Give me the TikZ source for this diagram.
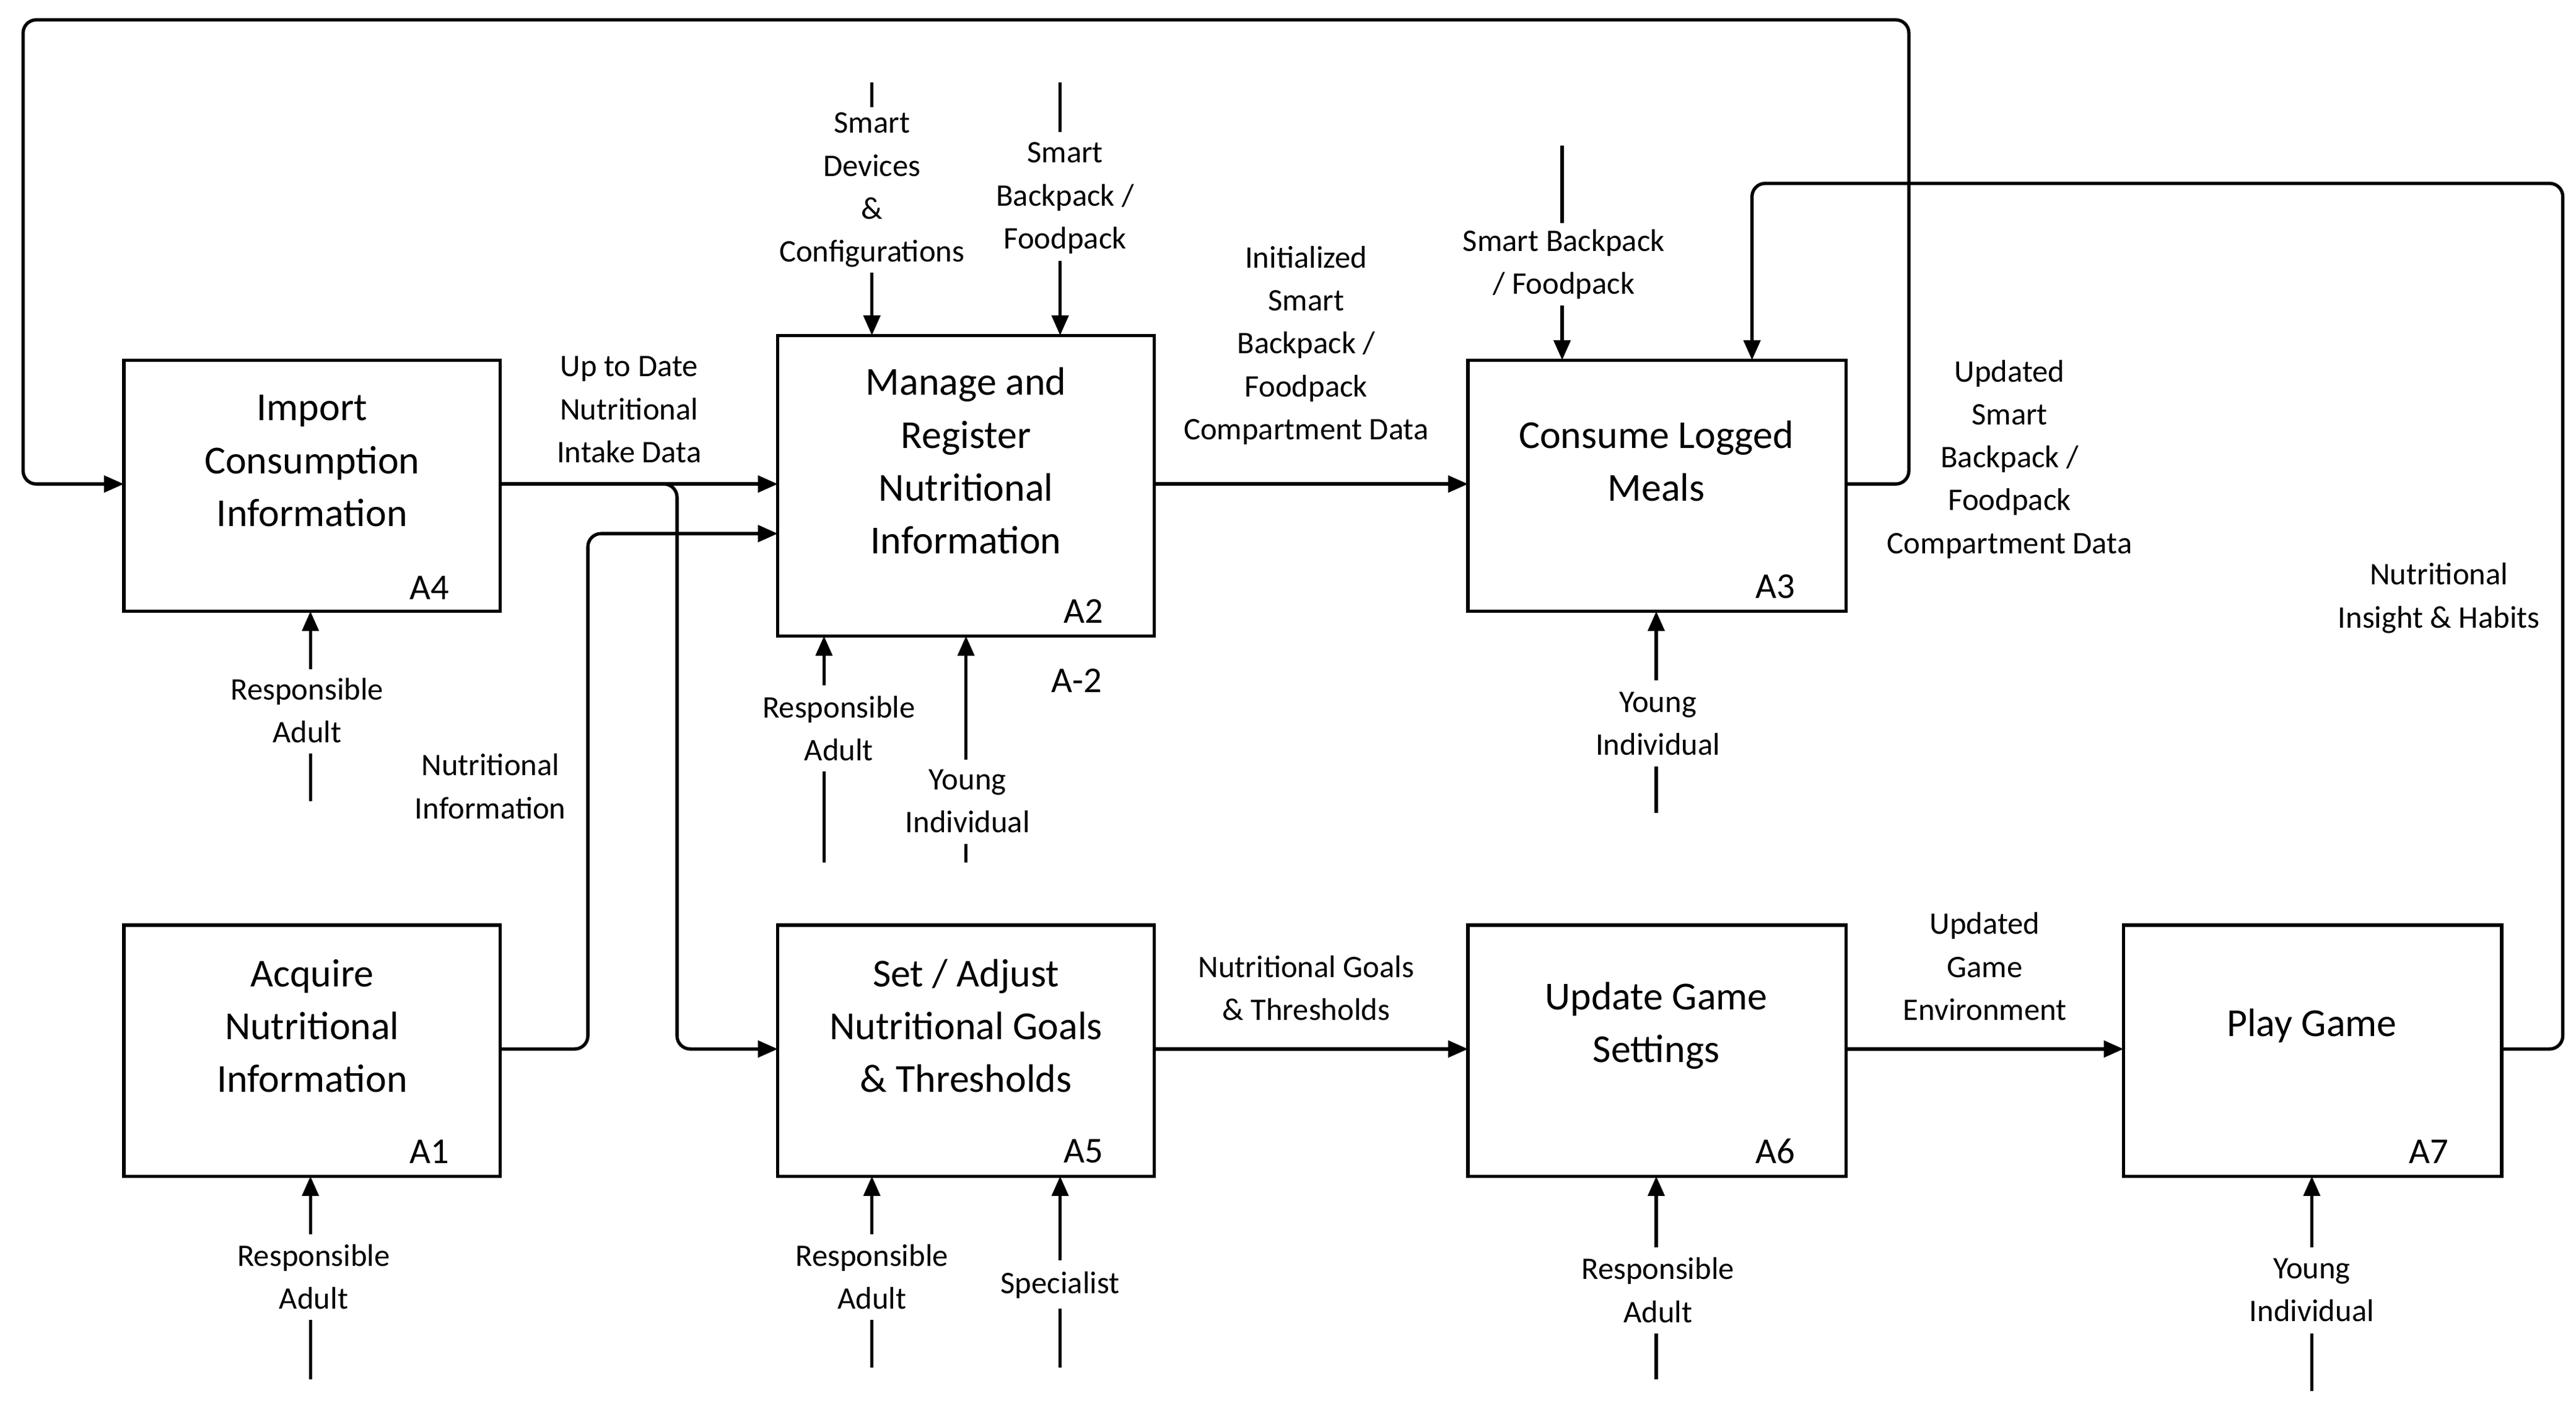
\documentclass[tikz,border=0pt]{standalone}
\usepackage{fontspec}
\setmainfont{Carlito}
\usetikzlibrary{arrows.meta}
\begin{document}
\begin{tikzpicture}[x=1pt,y=-1pt,
  box/.style={draw,line width=2pt,inner sep=0pt},
  ttl/.style={align=center,font=\fontsize{24}{32}\selectfont},
  lbl/.style={align=center,font=\fontsize{19}{26}\selectfont,inner sep=3pt},
  idl/.style={font=\fontsize{22}{26}\selectfont,inner sep=0pt},
  ln/.style={line width=2pt},
  arr/.style={line width=2pt,-{Triangle[length=12pt,width=10pt]}},
  rc/.style={rounded corners=8pt}]
\useasboundingbox (0,0) rectangle (1560,848);
% boxes
\draw[box] (75,218) rectangle (303,370); \node[ttl] (t4) at (189,279) {Import\\Consumption\\Information}; \node[idl] (a4) at (260,356) {A4};
\draw[box] (471,203) rectangle (699,385); \node[ttl] (t2) at (585,279) {Manage and\\Register\\Nutritional\\Information}; \node[idl] (a2) at (656,370) {A2};
\draw[box] (889,218) rectangle (1118,370); \node[ttl] (t3) at (1003,279) {Consume Logged\\Meals}; \node[idl] (a3) at (1075,355) {A3};
\draw[box] (75,560) rectangle (303,712); \node[ttl] (t1) at (189,621) {Acquire\\Nutritional\\Information}; \node[idl] (a1) at (260,697) {A1};
\draw[box] (471,560) rectangle (699,712); \node[ttl] (t5) at (585,621) {Set / Adjust\\Nutritional Goals\\\& Thresholds}; \node[idl] (a5) at (656,697) {A5};
\draw[box] (889,560) rectangle (1118,712); \node[ttl] (t6) at (1003,621) {Update Game\\Settings}; \node[idl] (a6) at (1075,697) {A6};
\draw[box] (1286,560) rectangle (1515,712); \node[ttl] (t7) at (1400,621) {Play Game}; \node[idl] (a7) at (1471,697) {A7};
\node[idl] (am2) at (652,412) {A-2};
% coordinates
\coordinate (b4r) at (303,293); \coordinate (b2l) at (471,293); \coordinate (b2l2) at (471,323);
\coordinate (b2r) at (699,293); \coordinate (b3l) at (889,293); \coordinate (b3r) at (1118,293);
\coordinate (b4l) at (75,293); \coordinate (b1r) at (303,635); \coordinate (b5l) at (471,635);
\coordinate (b5r) at (699,635); \coordinate (b6l) at (889,635); \coordinate (b6r) at (1118,635);
\coordinate (b7l) at (1286,635); \coordinate (b7r) at (1515,635); \coordinate (b3t) at (1061,218);
% flows
\draw[arr] (b4r) -- (b2l);
\draw[arr,rc] (b4r) -- (410,293) -- (410,635) -- (b5l);
\draw[arr,rc] (b1r) -- (356,635) -- (356,323) -- (b2l2);
\draw[arr] (b2r) -- (b3l);
\draw[arr,rc] (b3r) -- (1156,293) -- (1156,12) -- (14,12) -- (14,293) -- (b4l);
\draw[arr,rc] (b7r) -- (1552,635) -- (1552,111) -- (1061,111) -- (b3t);
\draw[arr] (b5r) -- (b6l);
\draw[arr] (b6r) -- (b7l);
\node[lbl] (l1) at (381,248) {Up to Date\\Nutritional\\Intake Data};
\node[lbl] (l2) at (297,476) {Nutritional\\Information};
\node[lbl] (l3) at (791,209) {Initialized\\Smart\\Backpack /\\Foodpack\\Compartment Data};
\node[lbl] (l4) at (1217,278) {Updated\\Smart\\Backpack /\\Foodpack\\Compartment Data};
\node[lbl] (l5) at (1477,362) {Nutritional\\Insight \& Habits};
\node[lbl] (l6) at (791,598) {Nutritional Goals\\\& Thresholds};
\node[lbl] (l7) at (1202,585) {Updated\\Game\\Environment};
% controls
\node[lbl] (c1) at (528,115) {Smart\\Devices\\\&\\Configurations};
\coordinate (c1t) at (528,50); \draw[ln] (c1t) -- (c1.north); \draw[arr] (c1.south) -- (528,203);
\node[lbl] (c2) at (645,120) {Smart\\Backpack /\\Foodpack};
\coordinate (c2t) at (642,50); \draw[ln] (c2t) -- (642,80); \draw[arr] (642,158) -- (642,203);
\node[lbl] (c3) at (947,160) {Smart Backpack\\/ Foodpack};
\coordinate (c3t) at (946,88); \draw[ln] (c3t) -- (946,135); \draw[arr] (946,185) -- (946,218);
% mechanisms
\node[lbl] (m4) at (186,430) {Responsible\\Adult};
\draw[ln] (188,485) -- (188,456); \draw[arr] (188,405) -- (188,370);
\node[lbl] (m2a) at (508,441) {Responsible\\Adult};
\draw[ln] (499,522) -- (499,467); \draw[arr] (499,415) -- (499,385);
\node[lbl] (m2b) at (586,485) {Young\\Individual};
\draw[ln] (585,522) -- (585,511); \draw[arr] (585,460) -- (585,385);
\node[lbl] (m3) at (1004,438) {Young\\Individual};
\draw[ln] (1003,492) -- (1003,464); \draw[arr] (1003,412) -- (1003,370);
\node[lbl] (m1) at (190,773) {Responsible\\Adult};
\draw[ln] (188,835) -- (188,799); \draw[arr] (188,747) -- (188,712);
\node[lbl] (m5a) at (528,773) {Responsible\\Adult};
\draw[ln] (528,828) -- (528,799); \draw[arr] (528,747) -- (528,712);
\node[lbl] (m5b) at (642,778) {Specialist};
\draw[ln] (642,828) -- (642,792); \draw[arr] (642,763) -- (642,712);
\node[lbl] (m6) at (1004,781) {Responsible\\Adult};
\draw[ln] (1003,835) -- (1003,807); \draw[arr] (1003,755) -- (1003,712);
\node[lbl] (m7) at (1400,781) {Young\\Individual};
\draw[ln] (1400,842) -- (1400,807); \draw[arr] (1400,755) -- (1400,712);
\end{tikzpicture}
\end{document}
